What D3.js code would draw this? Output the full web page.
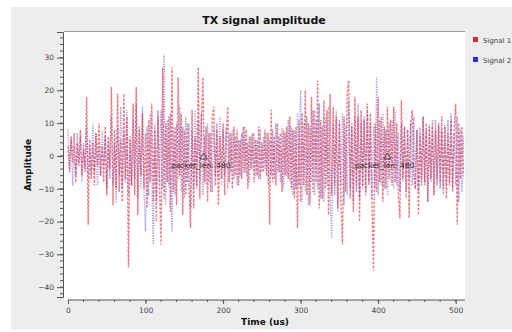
<!DOCTYPE html>
<html>
<head>
<meta charset="utf-8">
<script src="https://cdn.jsdelivr.net/npm/d3@7"></script>
<style>
  body { margin: 0; background: #fff; }
  svg { display: block; font-family: "DejaVu Sans", sans-serif; }
</style>
</head>
<body>
<svg id="chart" width="512" height="332"></svg>
<script>
// sample step (us) and samples
const step = 2
const signal1 = [
  3, -5, 6, -2, 7, -8, 4, -3, 8, -6, 2, -4, 18, -21, 5, -7,
  4, -9, 7, -3, 10, -6, 3, -8, 9, -12, 6, -4, 21, -15, 8, -10,
  19, -11, 5, -14, 19, -7, 12, -34, 6, -9, 16, -12, 21, -18, 9, -6,
  13, -10, 7, -16, 11, -8, 16, -14, 8, -20, 14, -9, -27, 27, -13, 10,
  -8, 12, -17, 27, -11, 9, -15, 24, -6, 13, -18, 8, -12, 10, -9, -22,
  14, -16, 6, -10, 27, -13, 11, 24, -8, 9, -14, 7, -11, 12, 15, -9,
  8, -15, 6, -7, 10, -12, 5, 15, -8, 7, -10, 9, -6, 8, -9, 5,
  -7, 9, -5, 8, -10, 6, -4, 7, -8, 5, -6, 9, -7, 4, -5, 8,
  -6, 7, -21, 14, -8, 6, -9, 10, -5, 7, -11, 8, -6, 9, -7, 12,
  -10, 8, -13, 9, -22, 11, -14, 13, -9, 20, -12, 10, -15, 18, -11, 14,
  -8, 23, -16, 11, -13, 17, -10, 14, -18, 19, -12, 15, -9, 12, -16, 10,
  -14, -27, 12, -11, 19, 23, -13, 10, -17, 18, -9, 12, -20, 14, -10, 11,
  -12, 16, -9, 13, -15, -35, 10, -11, 18, -8, 12, -14, 9, -10, 15, -7,
  11, -9, 15, -8, 10, -12, -19, 17, -7, 9, -11, 8, -19, 10, 14, -6,
  -10, 8, -18, 7, -9, 12, -8, 10, -14, 9, -7, 11, -12, 8, -9, 10,
  -8, 12, -10, 9, -13, 7, -9, 11, -11, 8, 16, -21, 10, -7, 9, -6
]
const signal2 = [
  8, -4, 5, -9, 3, -6, 7, -2, 6, -8, 4, -5, 9, -7, 3, -6,
  10, -5, 7, -9, 4, -6, 8, -3, 6, -10, 5, -7, 12, -9, 4, -14,
  9, -6, 15, -10, 7, -8, 14, -12, 5, -9, 11, -7, 16, -13, 8, -10,
  15, -11, -23, 9, -12, 13, -7, -27, 10, -14, 12, -8, 14, -10, 31, -15,
  11, -9, 13, -23, 8, -12, 10, -7, 15, -11, 9, -13, 12, -8, 10, -16,
  8, -10, 14, -9, 11, -7, 13, -12, 6, -9, 10, -8, 7, -11, 9, -6,
  10, -7, 12, -9, 8, -6, 9, -10, 7, -5, 8, -7, 6, -9, 5, -6,
  7, -5, 9, -6, 4, -8, 6, -4, 7, -6, 5, -7, 8, -5, 6, -4,
  7, -9, 5, -6, 8, -7, 10, -5, 6, -8, 9, -10, 7, -6, 11, -8,
  9, -12, 8, -10, 13, -9, 20, -14, 10, -11, 12, -15, 9, -8, 14, -12,
  11, -10, 16, -13, 9, -14, 12, -9, 15, -11, -25, 10, -12, 14, -17, 11,
  -9, 13, -15, 10, -12, 17, -10, 9, -14, 12, -11, 16, -13, 10, -9, 12,
  -11, 14, -8, 10, -13, 9, -10, 24, -12, 11, -9, 13, -10, 8, -12, 10,
  -8, 11, -10, 14, -9, 7, -11, 10, -8, 9, -13, 8, -7, 10, -9, 12,
  -10, 8, -11, 9, -7, 12, -9, 8, -14, 10, -8, 9, -12, 11, -7, 9,
  -10, 8, -12, 10, -9, 11, -8, 13, -10, 7, -9, 12, -14, 8, -11, 6
]
const seriesNames = ["Signal 1", "Signal 2"]
const seriesColors = ["#e8222a", "#2a2ae8"]
const xTicks = [0, 100, 200, 300, 400, 500]
const yTicks = [-40, -30, -20, -10, 0, 10, 20, 30]
const tags = [{ t: 175, label: "packet_len: 480" }, { t: 412, label: "packet_len: 480" }]

const svg = d3.select("#chart")

// background panel
svg.append("rect").attr("x", 11).attr("y", 7).attr("width", 501).attr("height", 323).attr("fill", "#ededed")

const x = d3.scaleLinear().domain([0, 512]).range([68, 465])
const y = d3.scaleLinear().domain([-43, 37.8]).range([297, 32])

// canvas
svg.append("rect").attr("x", 64).attr("y", 32).attr("width", 401).attr("height", 268).attr("fill", "#fff")
svg.append("line").attr("x1", 64).attr("x2", 465).attr("y1", 31.5).attr("y2", 31.5).attr("stroke", "#9a9a9a")

svg.append("defs").append("clipPath").attr("id", "clip")
  .append("rect").attr("x", 64).attr("y", 32).attr("width", 401).attr("height", 268)

const line = d3.line().x((d, i) => x(i * step)).y(d => y(d))

const g = svg.append("g").attr("clip-path", "url(#clip)")
g.append("path").datum(signal2)
  .attr("d", line).attr("fill", "none")
  .attr("stroke", seriesColors[1]).attr("stroke-opacity", 0.45)
  .attr("stroke-width", 1.4).attr("stroke-dasharray", "1.2,1.3")
g.append("path").datum(signal1)
  .attr("d", line).attr("fill", "none")
  .attr("stroke", seriesColors[0]).attr("stroke-opacity", 0.6)
  .attr("stroke-width", 1.4).attr("stroke-dasharray", "2.5,1.5")

// tags
tags.forEach(tg => {
  const tx = x(tg.t)
  svg.append("path")
    .attr("d", d3.symbol().type(d3.symbolTriangle).size(22)())
    .attr("transform", "translate(" + tx + "," + (y(0) + 1) + ")")
    .attr("fill", "none").attr("stroke", "#333").attr("stroke-width", 0.8)
  svg.append("text").attr("x", tx - 3).attr("y", y(0) + 12)
    .attr("text-anchor", "middle").attr("font-size", 7.5).attr("fill", "#333")
    .text(tg.label)
})

// y axis
const yAxis = svg.append("g").attr("transform", "translate(63,0)")
  .call(d3.axisLeft(y).tickValues(yTicks).tickSize(6).tickPadding(3).tickFormat(d3.format("d")))
yAxis.select(".domain").attr("stroke", "#555")
yAxis.selectAll(".tick line").attr("stroke", "#555")
yAxis.selectAll("text").attr("font-size", 7.5).attr("fill", "#444").attr("font-family", "DejaVu Sans")
yAxis.append("g").selectAll("line").data(d3.range(-42, 38, 2))
  .join("line").attr("x1", -3).attr("x2", 0).attr("y1", d => y(d)).attr("y2", d => y(d)).attr("stroke", "#555")

// x axis
const xAxis = svg.append("g").attr("transform", "translate(0,300)")
  .call(d3.axisBottom(x).tickValues(xTicks).tickSize(4).tickPadding(4).tickFormat(d3.format("d")))
xAxis.select(".domain").attr("stroke", "#555").attr("d", "M68,0H465")
xAxis.selectAll(".tick line").attr("stroke", "#555")
xAxis.selectAll("text").attr("font-size", 7.5).attr("fill", "#444").attr("font-family", "DejaVu Sans")
xAxis.append("g").selectAll("line").data(d3.range(20, 512, 20))
  .join("line").attr("x1", d => x(d)).attr("x2", d => x(d)).attr("y1", 0).attr("y2", 2).attr("stroke", "#555")

// titles
svg.append("text").attr("x", 264).attr("y", 24).attr("text-anchor", "middle")
  .attr("font-size", 11).attr("font-weight", "bold").attr("fill", "#111").text("TX signal amplitude")
svg.append("text").attr("x", 265).attr("y", 325).attr("text-anchor", "middle")
  .attr("font-size", 9).attr("font-weight", "bold").attr("fill", "#111").text("Time (us)")
svg.append("text").attr("transform", "translate(31,165)rotate(-90)").attr("text-anchor", "middle")
  .attr("font-size", 9).attr("font-weight", "bold").attr("fill", "#111").text("Amplitude")

// legend
seriesNames.forEach((n, i) => {
  const ly = 40 + i * 20
  svg.append("rect").attr("x", 473).attr("y", ly - 3).attr("width", 5).attr("height", 5).attr("fill", seriesColors[i])
  svg.append("text").attr("x", 483).attr("y", ly + 2.5).attr("font-size", 7).attr("fill", "#444").text(n)
})
</script>
</body>
</html>
